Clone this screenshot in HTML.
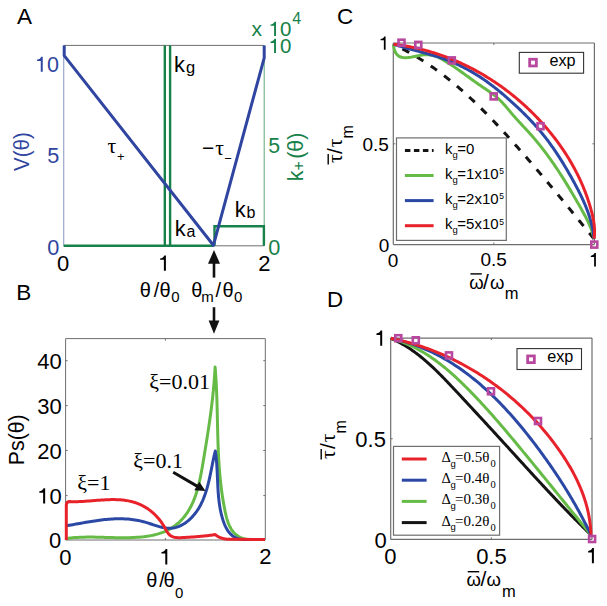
<!DOCTYPE html>
<html><head><meta charset="utf-8"><style>
html,body{margin:0;padding:0;background:#fff;width:607px;height:606px;overflow:hidden}
svg{display:block}
svg text{font-family:"Liberation Sans", sans-serif}
</style></head><body>
<svg xmlns="http://www.w3.org/2000/svg" width="607" height="606" viewBox="0 0 607 606">
<rect x="0" y="0" width="607" height="606" fill="#fff"/>
<line x1="63.70" y1="45.40" x2="264.20" y2="45.40" stroke="#6e6e6e" stroke-width="1.00"/>
<line x1="63.70" y1="45.40" x2="63.70" y2="245.80" stroke="#9aa6cc" stroke-width="1.20"/>
<line x1="264.20" y1="45.40" x2="264.20" y2="245.80" stroke="#5da57a" stroke-width="1.00"/>
<line x1="63.70" y1="245.80" x2="264.20" y2="245.80" stroke="#6e6e6e" stroke-width="1.00"/>
<path d="M63.70,245.80 L213.00,245.80" stroke="#17814a" stroke-width="2.60" fill="none"/>
<path d="M164.80,245.80 L164.80,45.40" stroke="#17814a" stroke-width="2.40" fill="none"/>
<path d="M170.10,245.80 L170.10,45.40" stroke="#17814a" stroke-width="2.40" fill="none"/>
<path d="M214.50,245.80 L214.50,226.20 L263.90,226.20 L263.90,245.80" stroke="#17814a" stroke-width="2.40" fill="none" stroke-linejoin="miter"/>
<path d="M64.20,45.40 L64.20,55.60 L213.40,245.30 L264.20,57.80 L264.20,45.40" stroke="#2f45a0" stroke-width="3.00" fill="none" stroke-linejoin="round"/>
<path d="M42.74,71.80 L42.74,56.75 L41.19,56.75 C40.70,58.25 39.30,59.44 37.04,59.72 L37.04,61.11 L40.76,61.11 L40.76,71.80 Z" fill="#2f45a0"/>
<text x="46.95" y="71.80" font-size="21.50" fill="#2f45a0">0</text>
<text x="47.13" y="162.90" font-size="21.70" fill="#2f45a0">5</text>
<text x="47.15" y="254.60" font-size="21.70" fill="#2f45a0">0</text>
<text x="57.04" y="270.80" font-size="22.00" fill="#000">0</text>
<path d="M165.90,270.70 L165.90,255.40 L164.33,255.40 C163.82,256.93 162.40,258.13 160.11,258.42 L160.11,259.84 L163.89,259.84 L163.89,270.70 Z" fill="#000"/>
<text x="258.19" y="271.00" font-size="22.00" fill="#000">2</text>
<path d="M275.98,53.10 L275.98,38.75 L274.50,38.75 C274.03,40.19 272.70,41.31 270.55,41.58 L270.55,42.91 L274.09,42.91 L274.09,53.10 Z" fill="#17814a"/>
<text x="280.00" y="53.10" font-size="20.50" fill="#17814a">0</text>
<text x="268.35" y="153.40" font-size="21.30" fill="#17814a">5</text>
<text x="268.35" y="254.60" font-size="21.70" fill="#17814a">0</text>
<text x="251.56" y="36.40" font-size="21.00" fill="#17814a">x</text>
<path d="M275.98,36.00 L275.98,21.65 L274.50,21.65 C274.03,23.09 272.70,24.21 270.55,24.48 L270.55,25.81 L274.09,25.81 L274.09,36.00 Z" fill="#17814a"/>
<text x="280.00" y="36.00" font-size="20.50" fill="#17814a">0</text>
<text x="292.23" y="24.40" font-size="16.00" fill="#17814a">4</text>
<text x="16.96" y="23.60" font-size="22.50" fill="#000">A</text>
<text x="16.25" y="299.60" font-size="22.50" fill="#000">B</text>
<text x="336.96" y="23.60" font-size="22.50" fill="#000">C</text>
<text x="327.06" y="307.20" font-size="22.40" fill="#000">D</text>
<text x="173.93" y="72.00" font-size="21.80" fill="#000">k</text>
<text x="185.91" y="73.00" font-size="16.50" fill="#000">g</text>
<text x="174.73" y="235.80" font-size="21.80" fill="#000">k</text>
<text x="186.62" y="237.00" font-size="16.00" fill="#000">a</text>
<text x="234.73" y="216.70" font-size="21.80" fill="#000">k</text>
<text x="246.47" y="217.60" font-size="16.00" fill="#000">b</text>
<text x="107.53" y="153.00" font-size="21.50" fill="#000" style='font-family:"Liberation Serif", serif'>τ</text>
<text x="116.97" y="161.00" font-size="13.00" fill="#000">+</text>
<text x="201.96" y="155.30" font-size="21.00" fill="#000">−</text>
<text x="215.23" y="155.00" font-size="21.50" fill="#000" style='font-family:"Liberation Serif", serif'>τ</text>
<text x="224.36" y="162.50" font-size="13.00" fill="#000">−</text>
<text x="139.86" y="297.30" font-size="20.00" fill="#000">θ</text>
<text x="153.70" y="297.30" font-size="20.00" fill="#000">/</text>
<text x="159.56" y="297.30" font-size="20.00" fill="#000">θ</text>
<text x="171.21" y="302.30" font-size="15.00" fill="#000">0</text>
<text x="191.26" y="297.30" font-size="20.00" fill="#000">θ</text>
<text x="201.30" y="302.30" font-size="15.00" fill="#000">m</text>
<text x="215.50" y="297.30" font-size="20.00" fill="#000">/</text>
<text x="222.46" y="297.30" font-size="20.00" fill="#000">θ</text>
<text x="233.91" y="302.30" font-size="15.00" fill="#000">0</text>
<line x1="214.00" y1="262.00" x2="214.00" y2="277.60" stroke="#111" stroke-width="2.60"/>
<path d="M208.0,263.7 L214.0,249.9 L220.0,263.7 Z" stroke="none" stroke-width="0.00" fill="#111"/>
<line x1="214.00" y1="307.20" x2="214.00" y2="322.00" stroke="#111" stroke-width="2.60"/>
<path d="M208.6,320.5 L214.0,333.8 L219.4,320.5 Z" stroke="none" stroke-width="0.00" fill="#111"/>
<g transform="translate(29.0,170.9) rotate(-90) scale(0.93,1)"><text x="0" y="0" font-size="22" fill="#2f45a0">V(θ)</text></g>
<g transform="translate(302.6,180.7) rotate(-90)" fill="#17814a"><text x="-0.45" y="0" font-size="21.6">k</text><text x="10.32" y="1.2" font-size="16">+</text><text x="0" y="0" font-size="22" transform="translate(21.87,0) scale(0.975,1)">(θ)</text></g>
<line x1="65.60" y1="338.60" x2="265.30" y2="338.60" stroke="#6e6e6e" stroke-width="1.00"/>
<line x1="65.60" y1="338.60" x2="65.60" y2="540.00" stroke="#6e6e6e" stroke-width="1.00"/>
<line x1="265.30" y1="338.60" x2="265.30" y2="540.00" stroke="#6e6e6e" stroke-width="1.00"/>
<line x1="65.60" y1="540.00" x2="265.30" y2="540.00" stroke="#6e6e6e" stroke-width="1.00"/>
<line x1="65.60" y1="360.70" x2="67.60" y2="360.70" stroke="#6e6e6e" stroke-width="1.00"/>
<line x1="263.30" y1="360.70" x2="265.30" y2="360.70" stroke="#6e6e6e" stroke-width="1.00"/>
<line x1="65.60" y1="405.60" x2="67.60" y2="405.60" stroke="#6e6e6e" stroke-width="1.00"/>
<line x1="263.30" y1="405.60" x2="265.30" y2="405.60" stroke="#6e6e6e" stroke-width="1.00"/>
<line x1="65.60" y1="450.50" x2="67.60" y2="450.50" stroke="#6e6e6e" stroke-width="1.00"/>
<line x1="263.30" y1="450.50" x2="265.30" y2="450.50" stroke="#6e6e6e" stroke-width="1.00"/>
<line x1="65.60" y1="495.60" x2="67.60" y2="495.60" stroke="#6e6e6e" stroke-width="1.00"/>
<line x1="263.30" y1="495.60" x2="265.30" y2="495.60" stroke="#6e6e6e" stroke-width="1.00"/>
<line x1="165.40" y1="540.00" x2="165.40" y2="538.00" stroke="#6e6e6e" stroke-width="1.00"/>
<line x1="165.40" y1="338.60" x2="165.40" y2="340.60" stroke="#6e6e6e" stroke-width="1.00"/>
<path d="M66.00,538.70 L68.26,538.36 L70.53,538.07 L72.82,537.82 L75.11,537.61 L77.41,537.45 L79.73,537.31 L82.05,537.22 L84.37,537.15 L86.71,537.10 L89.05,537.08 L91.40,537.09 L93.75,537.11 L96.11,537.15 L98.48,537.20 L100.85,537.25 L103.22,537.32 L105.59,537.39 L107.97,537.46 L110.35,537.53 L112.73,537.60 L115.11,537.65 L117.49,537.70 L119.87,537.73 L122.25,537.75 L124.63,537.75 L127.00,537.73 L129.38,537.68 L131.75,537.60 L134.11,537.50 L136.48,537.36 L138.83,537.18 L141.19,536.96 L143.53,536.71 L145.87,536.40 L148.21,536.05 L150.53,535.65 L152.84,535.19 L155.14,534.67 L157.41,534.09 L159.65,533.43 L161.85,532.69 L164.02,531.86 L166.14,530.95 L168.21,529.94 L170.22,528.83 L172.18,527.64 L174.08,526.35 L175.91,524.98 L177.68,523.53 L179.38,522.01 L181.01,520.41 L182.56,518.75 L184.04,517.03 L185.44,515.24 L186.77,513.40 L188.02,511.51 L189.20,509.57 L190.32,507.58 L191.37,505.54 L192.36,503.47 L193.30,501.35 L194.18,499.19 L195.00,497.00 L195.78,494.78 L196.51,492.53 L197.20,490.26 L197.85,487.96 L198.46,485.64 L199.04,483.30 L199.58,480.95 L200.10,478.59 L200.59,476.21 L201.06,473.83 L201.51,471.44 L201.94,469.05 L202.36,466.67 L202.76,464.28 L203.16,461.91 L203.56,459.54 L203.95,457.18 L204.33,454.84 L204.72,452.50 L205.10,450.18 L205.48,447.86 L205.86,445.55 L206.23,443.25 L206.60,440.96 L206.96,438.67 L207.32,436.39 L207.68,434.11 L208.03,431.84 L208.37,429.57 L208.71,427.30 L209.05,425.03 L209.38,422.77 L209.70,420.50 L210.02,418.24 L210.34,415.98 L210.64,413.71 L210.94,411.44 L211.23,409.17 L211.52,406.90 L211.80,404.62 L212.07,402.33 L212.33,400.04 L212.59,397.75 L212.84,395.44 L213.07,393.13 L213.31,390.81 L213.53,388.49 L213.74,386.15 L213.94,383.80 L214.14,381.44 L214.32,379.07 L214.50,376.68 L214.67,374.28 L214.82,371.87 L214.97,369.44 L215.10,367.00 L215.29,369.34 L215.47,371.67 L215.64,374.01 L215.80,376.34 L215.95,378.68 L216.09,381.01 L216.22,383.35 L216.33,385.68 L216.44,388.01 L216.55,390.35 L216.64,392.68 L216.73,395.02 L216.81,397.35 L216.89,399.68 L216.96,402.02 L217.03,404.35 L217.09,406.68 L217.15,409.01 L217.21,411.35 L217.26,413.68 L217.32,416.01 L217.37,418.35 L217.42,420.68 L217.47,423.01 L217.53,425.34 L217.58,427.68 L217.64,430.01 L217.69,432.34 L217.76,434.68 L217.82,437.01 L217.89,439.34 L217.96,441.67 L218.04,444.01 L218.13,446.34 L218.22,448.67 L218.32,451.00 L218.42,453.34 L218.53,455.67 L218.66,458.00 L218.79,460.34 L218.93,462.67 L219.08,465.00 L219.25,467.34 L219.42,469.67 L219.61,472.01 L219.81,474.34 L220.02,476.67 L220.24,479.01 L220.49,481.34 L220.74,483.68 L221.01,486.01 L221.30,488.35 L221.60,490.68 L221.93,493.02 L222.26,495.36 L222.62,497.69 L223.00,500.03 L223.40,502.36 L223.81,504.70 L224.25,507.04 L224.71,509.38 L225.19,511.71 L225.70,514.04 L226.25,516.35 L226.86,518.62 L227.54,520.85 L228.29,523.01 L229.14,525.10 L230.09,527.10 L231.15,529.00 L232.35,530.79 L233.68,532.45 L235.17,533.97 L236.82,535.34 L238.65,536.54 L240.68,537.56 L242.90,538.39 L245.34,539.01 L248.00,539.41 L265,539.6" stroke="#66bb47" stroke-width="3.00" fill="none" stroke-linejoin="round"/>
<path d="M66.00,525.80 L67.68,525.53 L69.36,525.24 L71.03,524.96 L72.71,524.66 L74.39,524.37 L76.07,524.07 L77.75,523.77 L79.43,523.47 L81.11,523.17 L82.79,522.88 L84.48,522.58 L86.16,522.29 L87.84,522.00 L89.52,521.72 L91.21,521.45 L92.89,521.18 L94.57,520.92 L96.26,520.68 L97.94,520.44 L99.63,520.21 L101.31,520.00 L102.99,519.80 L104.68,519.61 L106.36,519.44 L108.05,519.29 L109.73,519.16 L111.42,519.04 L113.10,518.94 L114.79,518.87 L116.47,518.81 L118.15,518.78 L119.84,518.77 L121.52,518.79 L123.21,518.83 L124.89,518.90 L126.57,518.99 L128.26,519.12 L129.94,519.27 L131.62,519.46 L133.30,519.68 L134.99,519.93 L136.67,520.21 L138.35,520.53 L140.03,520.88 L141.71,521.27 L143.39,521.70 L145.07,522.17 L146.75,522.67 L148.43,523.19 L150.10,523.74 L151.78,524.29 L153.45,524.84 L155.11,525.38 L156.77,525.90 L158.43,526.39 L160.08,526.84 L161.72,527.25 L163.35,527.61 L164.98,527.89 L166.60,528.11 L168.21,528.24 L169.81,528.28 L171.40,528.22 L172.98,528.06 L174.54,527.78 L176.09,527.39 L177.63,526.91 L179.14,526.33 L180.63,525.66 L182.10,524.90 L183.53,524.07 L184.94,523.16 L186.32,522.18 L187.66,521.13 L188.97,520.03 L190.24,518.87 L191.46,517.66 L192.65,516.40 L193.78,515.11 L194.87,513.78 L195.91,512.43 L196.90,511.04 L197.85,509.62 L198.75,508.18 L199.61,506.71 L200.43,505.22 L201.21,503.70 L201.95,502.16 L202.66,500.60 L203.33,499.03 L203.97,497.43 L204.58,495.82 L205.16,494.19 L205.71,492.55 L206.24,490.90 L206.74,489.23 L207.22,487.56 L207.68,485.88 L208.12,484.19 L208.54,482.50 L208.94,480.80 L209.33,479.09 L209.71,477.39 L210.08,475.69 L210.43,473.98 L210.78,472.28 L211.12,470.59 L211.46,468.90 L211.79,467.21 L212.12,465.53 L212.45,463.86 L212.79,462.21 L213.12,460.56 L213.46,458.93 L213.81,457.31 L214.17,455.70 L214.53,454.12 L214.91,452.55 L215.30,451.00 L215.48,452.20 L215.66,453.40 L215.82,454.60 L215.97,455.82 L216.11,457.04 L216.24,458.28 L216.37,459.51 L216.48,460.76 L216.58,462.01 L216.68,463.27 L216.77,464.53 L216.85,465.80 L216.93,467.07 L217.00,468.35 L217.07,469.63 L217.14,470.92 L217.20,472.21 L217.26,473.51 L217.32,474.80 L217.37,476.10 L217.43,477.41 L217.48,478.71 L217.54,480.02 L217.60,481.33 L217.65,482.64 L217.72,483.95 L217.78,485.27 L217.85,486.58 L217.92,487.89 L218.00,489.21 L218.08,490.52 L218.17,491.83 L218.26,493.14 L218.36,494.45 L218.47,495.76 L218.59,497.07 L218.72,498.37 L218.86,499.67 L219.01,500.97 L219.17,502.26 L219.34,503.55 L219.52,504.84 L219.72,506.13 L219.93,507.40 L220.15,508.68 L220.39,509.95 L220.65,511.21 L220.92,512.47 L221.21,513.72 L221.51,514.97 L221.83,516.21 L222.17,517.44 L222.53,518.66 L222.91,519.88 L223.31,521.09 L223.74,522.29 L224.18,523.48 L224.65,524.64 L225.15,525.79 L225.68,526.92 L226.24,528.02 L226.84,529.08 L227.47,530.12 L228.14,531.11 L228.85,532.07 L229.59,532.98 L230.39,533.85 L231.23,534.67 L232.11,535.43 L233.05,536.14 L234.03,536.79 L235.07,537.37 L236.17,537.89 L237.32,538.33 L238.53,538.71 L239.80,539.01 L241.13,539.22 L242.53,539.36 L244.00,539.41 L265,539.6" stroke="#2a48a4" stroke-width="3.00" fill="none" stroke-linejoin="round"/>
<path d="M66.3,540 L66.3,505.0 Q66.3,501.7 70,501.6 L70.00,501.60 L71.28,501.65 L72.57,501.67 L73.86,501.69 L75.17,501.68 L76.49,501.66 L77.81,501.63 L79.14,501.59 L80.48,501.53 L81.82,501.46 L83.17,501.39 L84.53,501.30 L85.89,501.21 L87.26,501.12 L88.63,501.01 L90.01,500.91 L91.39,500.80 L92.77,500.69 L94.16,500.58 L95.55,500.47 L96.94,500.36 L98.33,500.25 L99.72,500.15 L101.11,500.05 L102.51,499.96 L103.90,499.88 L105.29,499.81 L106.68,499.74 L108.07,499.68 L109.46,499.64 L110.84,499.61 L112.22,499.59 L113.60,499.59 L114.97,499.60 L116.34,499.64 L117.71,499.68 L119.07,499.75 L120.42,499.84 L121.77,499.95 L123.11,500.08 L124.44,500.24 L125.77,500.42 L127.09,500.63 L128.40,500.86 L129.70,501.13 L130.99,501.42 L132.27,501.74 L133.54,502.09 L134.80,502.48 L136.05,502.90 L137.29,503.35 L138.51,503.83 L139.73,504.35 L140.93,504.90 L142.11,505.48 L143.28,506.09 L144.44,506.74 L145.58,507.41 L146.70,508.11 L147.81,508.84 L148.89,509.61 L149.96,510.40 L151.02,511.21 L152.05,512.06 L153.06,512.93 L154.05,513.83 L155.02,514.76 L155.97,515.71 L156.90,516.69 L157.80,517.69 L158.68,518.72 L159.53,519.77 L160.36,520.85 L161.17,521.95 L161.95,523.07 L162.70,524.22 L163.43,525.39 L164.13,526.58 L164.80,527.79 L165.46,529.00 L166.12,530.19 L166.79,531.35 L167.50,532.45 L168.25,533.48 L169.06,534.41 L169.94,535.22 L170.92,535.90 L171.98,536.45 L173.13,536.88 L174.34,537.20 L175.62,537.42 L176.94,537.57 L178.31,537.64 L179.70,537.66 L181.12,537.63 L182.55,537.58 L183.98,537.51 L185.40,537.43 L186.82,537.35 L188.23,537.27 L189.63,537.18 L191.02,537.09 L192.41,537.00 L193.79,536.90 L195.16,536.80 L196.53,536.69 L197.89,536.58 L199.25,536.47 L200.60,536.34 L201.95,536.22 L203.29,536.08 L204.62,535.95 L205.96,535.80 L207.29,535.65 L208.61,535.49 L209.93,535.33 L211.25,535.16 L212.57,534.98 L213.89,534.79 L215.20,534.60 L215.36,534.73 L215.51,534.86 L215.67,534.98 L215.83,535.11 L215.99,535.23 L216.16,535.35 L216.32,535.46 L216.48,535.58 L216.65,535.69 L216.82,535.80 L216.99,535.91 L217.16,536.02 L217.33,536.13 L217.50,536.23 L217.67,536.33 L217.84,536.43 L218.02,536.53 L218.19,536.63 L218.37,536.72 L218.55,536.82 L218.72,536.91 L218.90,537.00 L219.08,537.09 L219.26,537.17 L219.45,537.25 L219.63,537.34 L219.81,537.42 L219.99,537.50 L220.18,537.57 L220.37,537.65 L220.55,537.72 L220.74,537.79 L220.93,537.86 L221.11,537.93 L221.30,537.99 L221.49,538.06 L221.68,538.12 L221.87,538.18 L222.07,538.24 L222.26,538.30 L222.45,538.36 L222.64,538.41 L222.84,538.46 L223.03,538.51 L223.23,538.56 L223.42,538.61 L223.62,538.66 L223.81,538.70 L224.01,538.74 L224.21,538.78 L224.40,538.82 L224.60,538.86 L224.80,538.90 L225.00,538.93 L225.20,538.96 L225.39,539.00 L225.59,539.03 L225.79,539.05 L225.99,539.08 L226.19,539.11 L226.39,539.13 L226.59,539.15 L226.79,539.17 L226.99,539.19 L227.19,539.21 L227.39,539.22 L227.59,539.24 L227.79,539.25 L227.99,539.26 L228.20,539.27 L228.40,539.28 L228.60,539.29 L228.80,539.30 L229.00,539.30 L229.20,539.30 L229.40,539.30 L229.60,539.30 L229.80,539.30 L230.00,539.30 L265,539.5" stroke="#e8222b" stroke-width="3.00" fill="none" stroke-linejoin="round"/>
<text x="37.24" y="368.80" font-size="22.00" fill="#000">40</text>
<text x="37.24" y="413.90" font-size="22.00" fill="#000">30</text>
<text x="37.24" y="458.90" font-size="22.00" fill="#000">20</text>
<path d="M45.16,503.60 L45.16,488.20 L43.57,488.20 C43.07,489.74 41.64,490.95 39.33,491.24 L39.33,492.67 L43.13,492.67 L43.13,503.60 Z" fill="#000"/>
<text x="49.47" y="503.60" font-size="22.00" fill="#000">0</text>
<text x="61.30" y="548.30" font-size="22.00" fill="#000" text-anchor="end">0</text>
<text x="59.24" y="564.60" font-size="22.00" fill="#000">0</text>
<path d="M167.30,564.40 L167.30,549.00 L165.72,549.00 C165.21,550.54 163.78,551.75 161.47,552.04 L161.47,553.47 L165.28,553.47 L165.28,564.40 Z" fill="#000"/>
<text x="259.19" y="564.40" font-size="22.00" fill="#000">2</text>
<text x="146.26" y="586.80" font-size="20.00" fill="#000">θ</text>
<text x="159.30" y="586.80" font-size="20.00" fill="#000">/</text>
<text x="163.56" y="586.80" font-size="20.00" fill="#000">θ</text>
<text x="175.11" y="598.00" font-size="15.00" fill="#000">0</text>
<g transform="translate(23.8,465.25) rotate(-90) scale(0.97,1)"><text x="0" y="0" font-size="22" fill="#000">Ps(θ)</text></g>
<text x="149.20" y="388.50" font-size="22.00" fill="#000" text-anchor="start" style='font-family:"Liberation Serif", serif'>ξ=0.01</text>
<text x="133.30" y="467.90" font-size="22.00" fill="#000" text-anchor="start" style='font-family:"Liberation Serif", serif'>ξ=0.1</text>
<text x="77.20" y="489.80" font-size="22.00" fill="#000" text-anchor="start" style='font-family:"Liberation Serif", serif'>ξ=1</text>
<line x1="173.20" y1="472.30" x2="197.50" y2="486.40" stroke="#111" stroke-width="3.00"/>
<path d="M205.5,491.0 L194.3,490.3 L199.3,481.7 Z" stroke="none" stroke-width="0.00" fill="#111"/>
<line x1="393.30" y1="43.00" x2="594.40" y2="43.00" stroke="#6e6e6e" stroke-width="1.20"/>
<line x1="393.30" y1="43.00" x2="393.30" y2="244.60" stroke="#6e6e6e" stroke-width="1.20"/>
<line x1="594.40" y1="43.00" x2="594.40" y2="244.60" stroke="#6e6e6e" stroke-width="1.20"/>
<line x1="393.30" y1="244.60" x2="594.40" y2="244.60" stroke="#6e6e6e" stroke-width="1.20"/>
<line x1="493.85" y1="244.60" x2="493.85" y2="242.60" stroke="#6e6e6e" stroke-width="1.00"/>
<line x1="493.85" y1="43.00" x2="493.85" y2="45.00" stroke="#6e6e6e" stroke-width="1.00"/>
<line x1="393.30" y1="143.80" x2="395.30" y2="143.80" stroke="#6e6e6e" stroke-width="1.00"/>
<line x1="592.40" y1="143.80" x2="594.40" y2="143.80" stroke="#6e6e6e" stroke-width="1.00"/>
<path d="M393.51,44.49 L394.81,45.09 L396.10,45.71 L397.39,46.33 L398.67,46.96 L399.95,47.60 L401.22,48.25 L402.49,48.90 L403.75,49.56 L405.01,50.22 L406.26,50.89 L407.51,51.57 L408.76,52.26 L410.00,52.95 L411.23,53.65 L412.46,54.35 L413.68,55.06 L414.90,55.78 L416.12,56.50 L417.33,57.23 L418.54,57.97 L419.74,58.71 L420.94,59.46 L422.13,60.21 L423.32,60.97 L424.51,61.74 L425.69,62.51 L426.86,63.29 L428.03,64.08 L429.20,64.86 L430.37,65.66 L431.53,66.46 L432.68,67.27 L433.83,68.08 L434.98,68.89 L436.12,69.72 L437.26,70.54 L438.40,71.38 L439.53,72.22 L440.66,73.06 L441.78,73.91 L442.90,74.76 L444.02,75.62 L445.13,76.48 L446.24,77.35 L447.35,78.22 L448.45,79.10 L449.55,79.98 L450.65,80.87 L451.74,81.76 L452.83,82.66 L453.91,83.56 L455.00,84.46 L456.07,85.37 L457.15,86.28 L458.22,87.20 L459.29,88.12 L460.36,89.05 L461.42,89.98 L462.48,90.91 L463.54,91.85 L464.59,92.79 L465.64,93.74 L466.69,94.68 L467.73,95.64 L468.77,96.59 L469.81,97.55 L470.85,98.52 L471.88,99.48 L472.91,100.46 L473.94,101.43 L474.97,102.41 L475.99,103.39 L477.01,104.37 L478.03,105.36 L479.04,106.35 L480.06,107.34 L481.07,108.34 L482.07,109.34 L483.08,110.34 L484.08,111.34 L485.08,112.35 L486.08,113.36 L487.08,114.37 L488.07,115.39 L489.07,116.41 L490.06,117.43 L491.04,118.45 L492.03,119.48 L493.02,120.50 L494.00,121.53 L494.98,122.56 L495.96,123.60 L496.93,124.63 L497.91,125.67 L498.88,126.71 L499.85,127.76 L500.82,128.80 L501.79,129.84 L502.75,130.89 L503.72,131.94 L504.68,132.99 L505.64,134.04 L506.60,135.10 L507.56,136.15 L508.52,137.21 L509.48,138.27 L510.43,139.33 L511.38,140.39 L512.33,141.45 L513.29,142.51 L514.23,143.58 L515.18,144.64 L516.13,145.71 L517.08,146.78 L518.02,147.84 L518.97,148.91 L519.91,149.98 L520.85,151.05 L521.79,152.12 L522.73,153.20 L523.67,154.27 L524.61,155.34 L525.54,156.42 L526.48,157.49 L527.41,158.57 L528.34,159.65 L529.28,160.73 L530.21,161.81 L531.14,162.88 L532.07,163.97 L533.00,165.05 L533.92,166.13 L534.85,167.21 L535.78,168.29 L536.70,169.38 L537.62,170.46 L538.55,171.54 L539.47,172.63 L540.39,173.72 L541.31,174.80 L542.23,175.89 L543.15,176.98 L544.06,178.06 L544.98,179.15 L545.89,180.24 L546.81,181.33 L547.72,182.42 L548.64,183.51 L549.55,184.60 L550.46,185.69 L551.37,186.78 L552.28,187.87 L553.19,188.97 L554.10,190.06 L555.01,191.15 L555.91,192.24 L556.82,193.34 L557.72,194.43 L558.63,195.52 L559.53,196.62 L560.44,197.71 L561.34,198.81 L562.24,199.90 L563.14,200.99 L564.04,202.09 L564.94,203.18 L565.84,204.28 L566.74,205.37 L567.64,206.47 L568.53,207.56 L569.43,208.66 L570.33,209.75 L571.22,210.85 L572.12,211.94 L573.01,213.04 L573.91,214.14 L574.80,215.23 L575.69,216.33 L576.58,217.42 L577.47,218.52 L578.36,219.61 L579.26,220.70 L580.15,221.80 L581.03,222.89 L581.92,223.99 L582.81,225.08 L583.70,226.17 L584.59,227.27 L585.47,228.36 L586.36,229.45 L587.25,230.55 L588.13,231.64 L589.02,232.73 L589.90,233.82 L590.79,234.91 L591.67,236.01 L592.55,237.10 L593.44,238.19 L594.32,239.28" stroke="#141414" stroke-width="3.00" fill="none" stroke-dasharray="7.6 8.9" stroke-dashoffset="6.49"/>
<path d="M393.50,44.30 L393.78,46.90 L394.24,49.16 L394.86,51.11 L395.64,52.76 L396.56,54.13 L397.61,55.25 L398.79,56.13 L400.07,56.79 L401.46,57.26 L402.94,57.56 L404.49,57.70 L406.12,57.71 L407.80,57.60 L409.53,57.40 L411.30,57.12 L413.09,56.80 L414.90,56.44 L416.71,56.07 L418.52,55.71 L420.31,55.37 L422.08,55.09 L423.80,54.87 L425.48,54.75 L427.11,54.72 L428.68,54.80 L430.20,54.96 L431.68,55.21 L433.12,55.53 L434.52,55.93 L435.89,56.39 L437.23,56.91 L438.54,57.48 L439.83,58.09 L441.10,58.74 L442.35,59.43 L443.60,60.14 L444.83,60.87 L446.06,61.62 L447.28,62.37 L448.50,63.14 L449.72,63.92 L450.93,64.71 L452.14,65.51 L453.34,66.32 L454.54,67.13 L455.74,67.96 L456.94,68.79 L458.14,69.63 L459.33,70.47 L460.52,71.32 L461.71,72.17 L462.90,73.02 L464.09,73.88 L465.28,74.74 L466.47,75.61 L467.66,76.47 L468.85,77.33 L470.04,78.19 L471.23,79.06 L472.42,79.92 L473.61,80.77 L474.81,81.63 L476.01,82.48 L477.21,83.32 L478.41,84.16 L479.62,85.00 L480.83,85.82 L482.05,86.65 L483.26,87.47 L484.47,88.29 L485.68,89.11 L486.89,89.93 L488.09,90.76 L489.28,91.59 L490.47,92.43 L491.64,93.29 L492.81,94.15 L493.96,95.03 L495.10,95.93 L496.22,96.85 L497.32,97.79 L498.41,98.75 L499.48,99.73 L500.52,100.74 L501.54,101.78 L502.55,102.83 L503.54,103.91 L504.51,105.00 L505.48,106.11 L506.43,107.23 L507.38,108.35 L508.33,109.48 L509.27,110.61 L510.22,111.75 L511.16,112.87 L512.12,114.00 L513.08,115.11 L514.04,116.21 L515.01,117.31 L515.99,118.40 L516.97,119.49 L517.95,120.57 L518.94,121.65 L519.93,122.72 L520.92,123.79 L521.91,124.86 L522.90,125.93 L523.89,126.99 L524.88,128.06 L525.87,129.13 L526.86,130.20 L527.84,131.27 L528.82,132.34 L529.79,133.42 L530.76,134.50 L531.73,135.59 L532.69,136.68 L533.64,137.78 L534.59,138.89 L535.53,140.00 L536.46,141.11 L537.39,142.24 L538.31,143.36 L539.23,144.49 L540.14,145.63 L541.05,146.77 L541.95,147.92 L542.84,149.07 L543.73,150.23 L544.62,151.39 L545.50,152.55 L546.37,153.72 L547.24,154.90 L548.10,156.08 L548.96,157.26 L549.82,158.44 L550.66,159.63 L551.51,160.83 L552.35,162.03 L553.18,163.23 L554.01,164.43 L554.84,165.64 L555.66,166.85 L556.48,168.07 L557.29,169.29 L558.10,170.51 L558.91,171.73 L559.71,172.96 L560.50,174.19 L561.30,175.42 L562.09,176.66 L562.87,177.90 L563.65,179.14 L564.43,180.38 L565.21,181.62 L565.98,182.87 L566.74,184.12 L567.51,185.37 L568.27,186.62 L569.03,187.88 L569.78,189.13 L570.53,190.39 L571.28,191.65 L572.03,192.91 L572.77,194.17 L573.51,195.43 L574.25,196.70 L574.98,197.96 L575.71,199.23 L576.44,200.49 L577.17,201.76 L577.89,203.03 L578.62,204.30 L579.34,205.56 L580.05,206.83 L580.77,208.10 L581.48,209.37 L582.20,210.64 L582.90,211.91 L583.61,213.18 L584.31,214.45 L585.00,215.73 L585.68,217.01 L586.35,218.30 L587.01,219.59 L587.65,220.89 L588.28,222.19 L588.89,223.51 L589.48,224.83 L590.05,226.17 L590.60,227.51 L591.13,228.87 L591.63,230.24 L592.10,231.63 L592.54,233.03 L592.96,234.45 L593.34,235.88 L593.69,237.33 L594.00,238.80" stroke="#66bb47" stroke-width="3.00" fill="none"/>
<path d="M393.50,44.20 L394.90,44.66 L396.31,45.11 L397.72,45.55 L399.14,45.99 L400.55,46.41 L401.98,46.83 L403.40,47.25 L404.83,47.65 L406.26,48.05 L407.70,48.45 L409.13,48.84 L410.57,49.23 L412.01,49.62 L413.45,50.01 L414.89,50.39 L416.33,50.77 L417.78,51.16 L419.22,51.54 L420.66,51.93 L422.11,52.31 L423.55,52.70 L424.99,53.10 L426.43,53.49 L427.87,53.89 L429.30,54.30 L430.74,54.71 L432.17,55.13 L433.60,55.55 L435.03,55.99 L436.45,56.43 L437.87,56.88 L439.29,57.34 L440.70,57.81 L442.11,58.29 L443.52,58.78 L444.92,59.28 L446.31,59.80 L447.70,60.33 L449.08,60.87 L450.46,61.43 L451.84,61.99 L453.21,62.57 L454.57,63.16 L455.93,63.77 L457.28,64.38 L458.63,65.01 L459.97,65.65 L461.30,66.30 L462.63,66.96 L463.96,67.64 L465.27,68.32 L466.59,69.02 L467.89,69.72 L469.19,70.44 L470.49,71.17 L471.77,71.91 L473.06,72.66 L474.33,73.42 L475.60,74.19 L476.87,74.98 L478.12,75.77 L479.37,76.57 L480.62,77.38 L481.85,78.20 L483.08,79.04 L484.31,79.88 L485.53,80.73 L486.74,81.59 L487.94,82.46 L489.14,83.34 L490.34,84.22 L491.52,85.12 L492.71,86.02 L493.88,86.93 L495.05,87.84 L496.22,88.77 L497.38,89.70 L498.54,90.64 L499.69,91.58 L500.84,92.53 L501.98,93.49 L503.12,94.45 L504.25,95.41 L505.38,96.39 L506.51,97.36 L507.63,98.34 L508.75,99.33 L509.86,100.32 L510.97,101.31 L512.08,102.31 L513.19,103.31 L514.29,104.32 L515.38,105.33 L516.47,106.35 L517.56,107.36 L518.65,108.39 L519.72,109.41 L520.80,110.45 L521.87,111.48 L522.93,112.52 L523.99,113.57 L525.05,114.62 L526.09,115.68 L527.14,116.74 L528.17,117.80 L529.21,118.87 L530.23,119.95 L531.25,121.03 L532.27,122.12 L533.27,123.21 L534.27,124.31 L535.27,125.41 L536.25,126.52 L537.23,127.63 L538.21,128.75 L539.17,129.88 L540.13,131.01 L541.08,132.15 L542.03,133.29 L542.96,134.44 L543.89,135.59 L544.81,136.76 L545.72,137.92 L546.63,139.10 L547.53,140.28 L548.42,141.46 L549.30,142.65 L550.17,143.85 L551.04,145.05 L551.90,146.26 L552.76,147.47 L553.61,148.69 L554.45,149.91 L555.28,151.14 L556.11,152.37 L556.93,153.60 L557.75,154.85 L558.56,156.09 L559.37,157.34 L560.17,158.59 L560.96,159.85 L561.75,161.11 L562.53,162.38 L563.31,163.65 L564.08,164.92 L564.85,166.20 L565.61,167.48 L566.37,168.76 L567.13,170.05 L567.88,171.34 L568.62,172.63 L569.37,173.93 L570.10,175.23 L570.84,176.53 L571.57,177.83 L572.30,179.14 L573.02,180.45 L573.74,181.76 L574.46,183.07 L575.17,184.39 L575.87,185.70 L576.58,187.03 L577.27,188.35 L577.96,189.68 L578.64,191.01 L579.31,192.34 L579.98,193.67 L580.64,195.01 L581.28,196.36 L581.92,197.70 L582.55,199.05 L583.17,200.41 L583.78,201.77 L584.37,203.13 L584.95,204.50 L585.53,205.87 L586.08,207.24 L586.63,208.62 L587.16,210.00 L587.67,211.39 L588.17,212.78 L588.65,214.18 L589.12,215.59 L589.57,216.99 L590.01,218.41 L590.42,219.83 L590.82,221.25 L591.20,222.68 L591.56,224.11 L591.90,225.56 L592.22,227.00 L592.52,228.46 L592.80,229.91 L593.06,231.38 L593.29,232.85 L593.51,234.33 L593.70,235.81 L593.86,237.30 L594.00,238.80" stroke="#2a48a4" stroke-width="3.00" fill="none"/>
<path d="M393.50,44.20 L395.02,44.39 L396.55,44.58 L398.07,44.79 L399.58,45.00 L401.10,45.23 L402.61,45.47 L404.12,45.71 L405.62,45.97 L407.13,46.24 L408.63,46.52 L410.13,46.81 L411.62,47.10 L413.11,47.41 L414.60,47.73 L416.09,48.06 L417.57,48.40 L419.05,48.74 L420.53,49.10 L422.00,49.47 L423.47,49.85 L424.94,50.23 L426.41,50.63 L427.87,51.04 L429.33,51.45 L430.78,51.88 L432.23,52.32 L433.68,52.76 L435.12,53.22 L436.56,53.68 L438.00,54.15 L439.44,54.64 L440.87,55.13 L442.29,55.63 L443.72,56.14 L445.14,56.66 L446.55,57.19 L447.96,57.73 L449.37,58.28 L450.78,58.83 L452.18,59.40 L453.57,59.97 L454.97,60.56 L456.36,61.15 L457.74,61.75 L459.12,62.36 L460.50,62.98 L461.87,63.61 L463.24,64.25 L464.60,64.89 L465.96,65.55 L467.32,66.21 L468.67,66.88 L470.02,67.56 L471.36,68.25 L472.70,68.95 L474.04,69.65 L475.37,70.37 L476.69,71.09 L478.01,71.82 L479.33,72.56 L480.64,73.31 L481.95,74.06 L483.25,74.83 L484.55,75.60 L485.84,76.38 L487.13,77.16 L488.42,77.96 L489.70,78.76 L490.97,79.58 L492.24,80.40 L493.51,81.22 L494.76,82.06 L496.02,82.90 L497.27,83.75 L498.51,84.61 L499.75,85.48 L500.99,86.35 L502.22,87.24 L503.44,88.13 L504.66,89.02 L505.87,89.93 L507.08,90.84 L508.29,91.76 L509.48,92.68 L510.68,93.62 L511.86,94.56 L513.04,95.51 L514.22,96.47 L515.39,97.43 L516.55,98.40 L517.71,99.38 L518.87,100.36 L520.02,101.35 L521.16,102.35 L522.29,103.36 L523.42,104.37 L524.55,105.39 L525.67,106.41 L526.78,107.45 L527.89,108.49 L528.99,109.53 L530.09,110.59 L531.18,111.65 L532.26,112.71 L533.34,113.79 L534.41,114.87 L535.47,115.95 L536.53,117.05 L537.58,118.15 L538.63,119.25 L539.67,120.36 L540.70,121.48 L541.73,122.61 L542.75,123.74 L543.76,124.88 L544.77,126.02 L545.76,127.17 L546.76,128.33 L547.74,129.49 L548.72,130.65 L549.69,131.83 L550.65,133.01 L551.61,134.19 L552.55,135.39 L553.49,136.58 L554.43,137.79 L555.35,138.99 L556.27,140.21 L557.18,141.43 L558.08,142.66 L558.97,143.89 L559.86,145.12 L560.73,146.37 L561.60,147.62 L562.46,148.87 L563.31,150.13 L564.16,151.39 L564.99,152.66 L565.82,153.94 L566.63,155.22 L567.44,156.50 L568.24,157.79 L569.03,159.09 L569.81,160.39 L570.58,161.70 L571.34,163.01 L572.10,164.32 L572.84,165.65 L573.58,166.97 L574.30,168.30 L575.02,169.64 L575.72,170.98 L576.42,172.32 L577.10,173.67 L577.78,175.03 L578.44,176.39 L579.10,177.75 L579.74,179.12 L580.38,180.49 L581.01,181.87 L581.62,183.25 L582.22,184.64 L582.82,186.03 L583.40,187.43 L583.97,188.83 L584.53,190.23 L585.08,191.64 L585.62,193.05 L586.15,194.47 L586.67,195.89 L587.17,197.31 L587.67,198.74 L588.15,200.17 L588.62,201.61 L589.08,203.05 L589.53,204.49 L589.97,205.94 L590.39,207.39 L590.81,208.85 L591.21,210.31 L591.60,211.77 L591.97,213.24 L592.33,214.71 L592.67,216.19 L592.99,217.66 L593.28,219.15 L593.55,220.63 L593.79,222.12 L594.00,223.62 L594.18,225.12 L594.33,226.62 L594.43,228.13 L594.51,229.64 L594.54,231.15 L594.52,232.67 L594.46,234.20 L594.36,235.73 L594.21,237.26 L594.00,238.80" stroke="#e8222b" stroke-width="3.00" fill="none"/>
<rect x="398.50" y="39.70" width="6.00" height="6.00" fill="none" stroke="#b8489f" stroke-width="2.60"/>
<rect x="415.30" y="41.90" width="6.00" height="6.00" fill="none" stroke="#b8489f" stroke-width="2.60"/>
<rect x="448.80" y="57.40" width="6.00" height="6.00" fill="none" stroke="#b8489f" stroke-width="2.60"/>
<rect x="490.70" y="93.40" width="6.00" height="6.00" fill="none" stroke="#b8489f" stroke-width="2.60"/>
<rect x="537.50" y="123.20" width="6.00" height="6.00" fill="none" stroke="#b8489f" stroke-width="2.60"/>
<rect x="591.30" y="241.60" width="6.00" height="6.00" fill="none" stroke="#b8489f" stroke-width="2.60"/>
<rect x="396.5" y="137.9" width="109.8" height="102.5" fill="#fff" stroke="#6e6e6e" stroke-width="1.2"/>
<path d="M404.9,150.40 L433.6,150.40" stroke="#141414" stroke-width="3.00" fill="none" stroke-dasharray="5.5 3.5"/>
<text x="444.89" y="153.80" font-size="15.00" fill="#000">k</text>
<text x="452.50" y="158.10" font-size="9.50" fill="#000">g</text>
<text x="457.30" y="153.80" font-size="15.00" fill="#000">=0</text>
<line x1="404.90" y1="175.50" x2="433.60" y2="175.50" stroke="#66bb47" stroke-width="3.00"/>
<text x="444.89" y="178.90" font-size="15.00" fill="#000">k</text>
<text x="452.50" y="183.20" font-size="9.50" fill="#000">g</text>
<text x="457.30" y="178.90" font-size="15.00" fill="#000">=1x10</text>
<text x="499.26" y="174.30" font-size="8.50" fill="#000">5</text>
<line x1="404.90" y1="200.60" x2="433.60" y2="200.60" stroke="#2a48a4" stroke-width="3.00"/>
<text x="444.89" y="204.00" font-size="15.00" fill="#000">k</text>
<text x="452.50" y="208.30" font-size="9.50" fill="#000">g</text>
<text x="457.30" y="204.00" font-size="15.00" fill="#000">=2x10</text>
<text x="499.26" y="199.40" font-size="8.50" fill="#000">5</text>
<line x1="404.90" y1="225.70" x2="433.60" y2="225.70" stroke="#e8222b" stroke-width="3.00"/>
<text x="444.89" y="229.10" font-size="15.00" fill="#000">k</text>
<text x="452.50" y="233.40" font-size="9.50" fill="#000">g</text>
<text x="457.30" y="229.10" font-size="15.00" fill="#000">=5x10</text>
<text x="499.26" y="224.50" font-size="8.50" fill="#000">5</text>
<rect x="519.3" y="52.4" width="64.3" height="20.8" fill="#fff" stroke="#333" stroke-width="1.1"/>
<rect x="529.65" y="59.25" width="6.70" height="6.70" fill="none" stroke="#b8489f" stroke-width="2.80"/>
<text x="549.51" y="66.10" font-size="16.20" fill="#000">exp</text>
<path d="M385.60,49.80 L385.60,36.50 L384.23,36.50 C383.80,37.83 382.56,38.88 380.56,39.12 L380.56,40.36 L383.85,40.36 L383.85,49.80 Z" fill="#000"/>
<text x="388.90" y="151.10" font-size="19.00" fill="#000" text-anchor="end">0.5</text>
<text x="389.30" y="252.00" font-size="19.00" fill="#000" text-anchor="end">0</text>
<text x="387.86" y="266.60" font-size="19.00" fill="#000">0</text>
<text x="480.46" y="266.40" font-size="19.00" fill="#000">0.5</text>
<path d="M595.90,266.50 L595.90,253.00 L594.51,253.00 C594.07,254.35 592.81,255.41 590.79,255.66 L590.79,256.92 L594.13,256.92 L594.13,266.50 Z" fill="#000"/>
<g transform="translate(341.80,165.00) rotate(-90)"><text x="2.03" y="0" font-size="21.5" style="font-family:'Liberation Serif',serif">τ</text><text x="10.90" y="0" font-size="21">/</text><text x="17.83" y="0" font-size="21.5" style="font-family:'Liberation Serif',serif">τ</text><text x="26.64" y="10.90" font-size="16">m</text><line x1="0.5" y1="-13.6" x2="10.9" y2="-13.6" stroke="#000" stroke-width="1.4"/></g>
<text x="469.25" y="288.60" font-size="18.50" fill="#000">ω</text>
<text x="483.10" y="288.60" font-size="21.00" fill="#000">/</text>
<text x="490.05" y="288.60" font-size="18.50" fill="#000">ω</text>
<text x="504.70" y="299.30" font-size="16.50" fill="#000">m</text>
<line x1="470.40" y1="273.90" x2="481.80" y2="273.90" stroke="#000" stroke-width="1.40"/>
<line x1="390.70" y1="338.10" x2="592.00" y2="338.10" stroke="#6e6e6e" stroke-width="1.20"/>
<line x1="390.70" y1="338.10" x2="390.70" y2="539.40" stroke="#6e6e6e" stroke-width="1.20"/>
<line x1="592.00" y1="338.10" x2="592.00" y2="539.40" stroke="#6e6e6e" stroke-width="1.20"/>
<line x1="390.70" y1="539.40" x2="592.00" y2="539.40" stroke="#6e6e6e" stroke-width="1.20"/>
<line x1="491.35" y1="539.40" x2="491.35" y2="537.40" stroke="#6e6e6e" stroke-width="1.00"/>
<line x1="491.35" y1="338.10" x2="491.35" y2="340.10" stroke="#6e6e6e" stroke-width="1.00"/>
<line x1="390.70" y1="438.75" x2="392.70" y2="438.75" stroke="#6e6e6e" stroke-width="1.00"/>
<line x1="590.00" y1="438.75" x2="592.00" y2="438.75" stroke="#6e6e6e" stroke-width="1.00"/>
<path d="M390.80,338.30 L392.58,339.09 L394.33,339.90 L396.06,340.74 L397.77,341.61 L399.46,342.50 L401.13,343.41 L402.78,344.35 L404.42,345.31 L406.03,346.29 L407.63,347.30 L409.21,348.33 L410.78,349.37 L412.33,350.44 L413.86,351.53 L415.38,352.63 L416.88,353.75 L418.37,354.90 L419.84,356.05 L421.31,357.23 L422.76,358.42 L424.19,359.62 L425.62,360.84 L427.03,362.07 L428.44,363.32 L429.83,364.58 L431.21,365.85 L432.59,367.13 L433.96,368.42 L435.31,369.72 L436.66,371.04 L438.01,372.36 L439.34,373.69 L440.67,375.03 L442.00,376.37 L443.32,377.72 L444.63,379.08 L445.94,380.44 L447.25,381.81 L448.55,383.18 L449.85,384.55 L451.15,385.93 L452.44,387.31 L453.74,388.69 L455.03,390.07 L456.33,391.45 L457.62,392.83 L458.91,394.22 L460.20,395.60 L461.49,396.98 L462.78,398.37 L464.08,399.75 L465.37,401.14 L466.65,402.53 L467.94,403.91 L469.23,405.30 L470.52,406.69 L471.81,408.08 L473.09,409.47 L474.38,410.86 L475.67,412.25 L476.95,413.64 L478.24,415.03 L479.52,416.42 L480.81,417.81 L482.09,419.20 L483.37,420.59 L484.66,421.98 L485.94,423.38 L487.22,424.77 L488.50,426.16 L489.79,427.56 L491.07,428.95 L492.35,430.34 L493.63,431.74 L494.91,433.13 L496.19,434.53 L497.46,435.92 L498.74,437.32 L500.02,438.72 L501.30,440.11 L502.58,441.51 L503.85,442.90 L505.13,444.30 L506.40,445.70 L507.68,447.09 L508.96,448.49 L510.23,449.89 L511.51,451.28 L512.78,452.68 L514.05,454.08 L515.33,455.48 L516.60,456.87 L517.88,458.27 L519.15,459.67 L520.42,461.06 L521.70,462.46 L522.97,463.86 L524.24,465.25 L525.52,466.65 L526.79,468.04 L528.07,469.44 L529.34,470.83 L530.62,472.22 L531.90,473.61 L533.17,475.01 L534.45,476.40 L535.73,477.79 L537.01,479.18 L538.29,480.57 L539.57,481.95 L540.86,483.34 L542.14,484.72 L543.42,486.11 L544.71,487.49 L546.00,488.87 L547.28,490.25 L548.57,491.63 L549.86,493.01 L551.16,494.39 L552.45,495.76 L553.75,497.14 L555.04,498.51 L556.34,499.88 L557.64,501.25 L558.95,502.62 L560.25,503.98 L561.56,505.35 L562.86,506.71 L564.17,508.07 L565.49,509.43 L566.80,510.78 L568.12,512.14 L569.44,513.49 L570.76,514.84 L572.08,516.19 L573.41,517.53 L574.74,518.88 L576.07,520.22 L577.40,521.56 L578.74,522.89 L580.08,524.23 L581.42,525.56 L582.76,526.89 L584.11,528.21 L585.46,529.54 L586.82,530.86 L588.17,532.18 L589.53,533.49 L590.90,534.80" stroke="#141414" stroke-width="3.00" fill="none"/>
<path d="M390.80,338.30 L392.69,338.83 L394.56,339.39 L396.41,339.98 L398.25,340.59 L400.07,341.23 L401.88,341.90 L403.67,342.60 L405.44,343.32 L407.20,344.06 L408.94,344.83 L410.67,345.62 L412.38,346.44 L414.08,347.28 L415.77,348.15 L417.44,349.03 L419.09,349.94 L420.74,350.87 L422.37,351.81 L423.99,352.78 L425.59,353.77 L427.18,354.78 L428.76,355.81 L430.33,356.85 L431.89,357.91 L433.44,358.99 L434.97,360.09 L436.50,361.21 L438.01,362.34 L439.51,363.48 L441.01,364.64 L442.49,365.82 L443.96,367.01 L445.43,368.21 L446.88,369.42 L448.33,370.65 L449.77,371.89 L451.20,373.14 L452.62,374.41 L454.03,375.68 L455.44,376.97 L456.84,378.26 L458.23,379.56 L459.62,380.88 L460.99,382.20 L462.37,383.53 L463.73,384.86 L465.09,386.20 L466.45,387.55 L467.80,388.91 L469.14,390.27 L470.48,391.64 L471.82,393.01 L473.15,394.38 L474.48,395.77 L475.80,397.15 L477.11,398.54 L478.43,399.94 L479.73,401.34 L481.04,402.74 L482.34,404.15 L483.64,405.56 L484.93,406.98 L486.22,408.40 L487.50,409.82 L488.78,411.25 L490.06,412.68 L491.33,414.11 L492.60,415.55 L493.87,416.98 L495.14,418.43 L496.40,419.87 L497.65,421.32 L498.91,422.77 L500.16,424.22 L501.41,425.68 L502.66,427.13 L503.90,428.59 L505.14,430.05 L506.38,431.52 L507.62,432.98 L508.85,434.45 L510.09,435.91 L511.32,437.38 L512.54,438.85 L513.77,440.32 L515.00,441.79 L516.22,443.26 L517.44,444.74 L518.66,446.21 L519.88,447.68 L521.09,449.16 L522.31,450.63 L523.52,452.11 L524.74,453.58 L525.95,455.05 L527.16,456.53 L528.37,458.00 L529.58,459.48 L530.79,460.95 L531.99,462.42 L533.20,463.90 L534.40,465.37 L535.61,466.85 L536.81,468.32 L538.01,469.80 L539.22,471.27 L540.42,472.75 L541.62,474.22 L542.82,475.70 L544.02,477.17 L545.22,478.65 L546.42,480.12 L547.62,481.60 L548.81,483.07 L550.01,484.55 L551.21,486.02 L552.41,487.50 L553.61,488.97 L554.80,490.45 L556.00,491.93 L557.20,493.40 L558.40,494.88 L559.59,496.36 L560.79,497.83 L561.99,499.31 L563.19,500.79 L564.39,502.26 L565.58,503.74 L566.78,505.22 L567.98,506.69 L569.18,508.17 L570.38,509.65 L571.58,511.13 L572.78,512.61 L573.99,514.08 L575.19,515.56 L576.39,517.04 L577.60,518.52 L578.80,520.00 L580.01,521.48 L581.21,522.96 L582.42,524.44 L583.63,525.92 L584.84,527.40 L586.05,528.88 L587.26,530.36 L588.47,531.84 L589.68,533.32 L590.90,534.80" stroke="#66bb47" stroke-width="3.00" fill="none"/>
<path d="M390.80,338.30 L392.75,338.70 L394.69,339.13 L396.63,339.58 L398.55,340.05 L400.46,340.54 L402.36,341.05 L404.25,341.58 L406.13,342.14 L408.00,342.71 L409.86,343.31 L411.70,343.92 L413.54,344.55 L415.37,345.21 L417.19,345.88 L419.00,346.57 L420.80,347.28 L422.59,348.01 L424.37,348.76 L426.14,349.52 L427.90,350.31 L429.65,351.11 L431.39,351.93 L433.13,352.76 L434.85,353.62 L436.56,354.49 L438.26,355.38 L439.96,356.28 L441.64,357.20 L443.32,358.14 L444.99,359.09 L446.64,360.06 L448.29,361.05 L449.93,362.05 L451.56,363.06 L453.19,364.09 L454.80,365.14 L456.40,366.20 L458.00,367.27 L459.59,368.36 L461.16,369.46 L462.73,370.58 L464.29,371.71 L465.85,372.85 L467.39,374.01 L468.93,375.18 L470.45,376.36 L471.97,377.56 L473.48,378.76 L474.99,379.98 L476.48,381.22 L477.97,382.46 L479.45,383.71 L480.92,384.98 L482.38,386.26 L483.83,387.55 L485.28,388.85 L486.72,390.16 L488.15,391.48 L489.57,392.81 L490.99,394.15 L492.40,395.50 L493.80,396.86 L495.19,398.23 L496.58,399.61 L497.96,400.99 L499.33,402.39 L500.69,403.79 L502.05,405.21 L503.40,406.63 L504.74,408.06 L506.07,409.49 L507.40,410.94 L508.72,412.39 L510.04,413.85 L511.34,415.31 L512.64,416.79 L513.94,418.27 L515.23,419.75 L516.51,421.24 L517.78,422.74 L519.05,424.24 L520.31,425.75 L521.56,427.27 L522.81,428.78 L524.05,430.31 L525.28,431.84 L526.51,433.37 L527.73,434.91 L528.95,436.45 L530.16,437.99 L531.36,439.54 L532.56,441.10 L533.75,442.65 L534.94,444.21 L536.12,445.77 L537.29,447.34 L538.46,448.90 L539.63,450.47 L540.78,452.05 L541.93,453.62 L543.08,455.19 L544.22,456.77 L545.35,458.35 L546.48,459.94 L547.60,461.52 L548.72,463.11 L549.83,464.70 L550.94,466.29 L552.03,467.89 L553.13,469.49 L554.21,471.09 L555.30,472.70 L556.37,474.31 L557.44,475.92 L558.50,477.53 L559.56,479.15 L560.61,480.77 L561.65,482.39 L562.69,484.02 L563.73,485.65 L564.75,487.29 L565.77,488.93 L566.79,490.57 L567.79,492.22 L568.80,493.87 L569.79,495.52 L570.78,497.18 L571.76,498.84 L572.74,500.51 L573.71,502.18 L574.67,503.85 L575.63,505.53 L576.58,507.21 L577.52,508.90 L578.46,510.59 L579.39,512.29 L580.32,513.99 L581.23,515.70 L582.15,517.41 L583.05,519.13 L583.95,520.85 L584.84,522.57 L585.73,524.30 L586.60,526.04 L587.48,527.78 L588.34,529.53 L589.20,531.28 L590.05,533.04 L590.90,534.80" stroke="#2a48a4" stroke-width="3.00" fill="none"/>
<path d="M390.80,338.30 L392.75,338.69 L394.70,339.11 L396.65,339.53 L398.59,339.98 L400.53,340.44 L402.46,340.91 L404.39,341.41 L406.32,341.91 L408.24,342.44 L410.16,342.98 L412.08,343.53 L413.99,344.10 L415.90,344.68 L417.80,345.28 L419.70,345.90 L421.59,346.53 L423.48,347.17 L425.37,347.83 L427.25,348.51 L429.13,349.20 L431.00,349.90 L432.86,350.62 L434.72,351.35 L436.58,352.10 L438.43,352.86 L440.27,353.64 L442.11,354.43 L443.95,355.24 L445.78,356.05 L447.60,356.89 L449.42,357.73 L451.23,358.59 L453.03,359.47 L454.83,360.35 L456.63,361.26 L458.41,362.17 L460.19,363.10 L461.97,364.04 L463.73,364.99 L465.50,365.96 L467.25,366.94 L469.00,367.94 L470.74,368.94 L472.47,369.96 L474.20,370.99 L475.92,372.04 L477.63,373.10 L479.33,374.17 L481.03,375.25 L482.72,376.34 L484.40,377.45 L486.08,378.57 L487.74,379.70 L489.40,380.85 L491.05,382.00 L492.69,383.17 L494.33,384.35 L495.95,385.54 L497.57,386.74 L499.18,387.96 L500.78,389.18 L502.37,390.42 L503.96,391.67 L505.53,392.93 L507.10,394.20 L508.65,395.48 L510.20,396.78 L511.74,398.08 L513.27,399.40 L514.79,400.72 L516.30,402.06 L517.80,403.41 L519.29,404.77 L520.77,406.13 L522.25,407.51 L523.71,408.90 L525.16,410.30 L526.60,411.71 L528.03,413.13 L529.45,414.56 L530.86,416.00 L532.26,417.45 L533.65,418.91 L535.03,420.38 L536.40,421.86 L537.76,423.35 L539.11,424.85 L540.44,426.35 L541.77,427.87 L543.08,429.40 L544.38,430.93 L545.67,432.47 L546.95,434.03 L548.22,435.59 L549.48,437.16 L550.72,438.74 L551.95,440.33 L553.17,441.93 L554.38,443.53 L555.58,445.14 L556.76,446.77 L557.94,448.40 L559.09,450.04 L560.24,451.68 L561.38,453.34 L562.50,455.00 L563.60,456.67 L564.70,458.35 L565.77,460.04 L566.84,461.74 L567.88,463.44 L568.91,465.16 L569.93,466.88 L570.92,468.61 L571.90,470.35 L572.86,472.09 L573.80,473.85 L574.72,475.61 L575.62,477.39 L576.50,479.17 L577.36,480.96 L578.20,482.76 L579.01,484.57 L579.81,486.39 L580.58,488.21 L581.33,490.05 L582.05,491.89 L582.75,493.74 L583.42,495.61 L584.07,497.48 L584.69,499.36 L585.29,501.25 L585.86,503.15 L586.40,505.05 L586.92,506.97 L587.40,508.90 L587.86,510.83 L588.29,512.78 L588.69,514.73 L589.05,516.70 L589.39,518.67 L589.69,520.65 L589.97,522.64 L590.21,524.65 L590.42,526.66 L590.59,528.68 L590.73,530.71 L590.84,532.75 L590.91,534.80" stroke="#e8222b" stroke-width="3.00" fill="none"/>
<rect x="395.30" y="335.20" width="6.00" height="6.00" fill="none" stroke="#b8489f" stroke-width="2.60"/>
<rect x="412.80" y="337.30" width="6.00" height="6.00" fill="none" stroke="#b8489f" stroke-width="2.60"/>
<rect x="446.00" y="352.40" width="6.00" height="6.00" fill="none" stroke="#b8489f" stroke-width="2.60"/>
<rect x="488.00" y="388.30" width="6.00" height="6.00" fill="none" stroke="#b8489f" stroke-width="2.60"/>
<rect x="535.00" y="418.00" width="6.00" height="6.00" fill="none" stroke="#b8489f" stroke-width="2.60"/>
<rect x="589.10" y="536.00" width="6.00" height="6.00" fill="none" stroke="#b8489f" stroke-width="2.60"/>
<rect x="393.5" y="446.4" width="106.1" height="88.8" fill="#fff" stroke="#6e6e6e" stroke-width="1.2"/>
<line x1="401.80" y1="459.00" x2="426.60" y2="459.00" stroke="#e8222b" stroke-width="3.00"/>
<text x="441.45" y="461.90" font-size="14.50" fill="#000" style='font-family:"Liberation Serif", serif'>Δ</text>
<text x="450.50" y="466.70" font-size="9.50" fill="#000">g</text>
<text x="454.95" y="461.90" font-size="15.00" fill="#000" style='font-family:"Liberation Serif", serif'>=0.5θ</text>
<text x="490.40" y="467.00" font-size="10.50" fill="#000" style='font-family:"Liberation Serif", serif'>0</text>
<line x1="401.80" y1="480.20" x2="426.60" y2="480.20" stroke="#2a48a4" stroke-width="3.00"/>
<text x="441.45" y="483.10" font-size="14.50" fill="#000" style='font-family:"Liberation Serif", serif'>Δ</text>
<text x="450.50" y="487.90" font-size="9.50" fill="#000">g</text>
<text x="454.95" y="483.10" font-size="15.00" fill="#000" style='font-family:"Liberation Serif", serif'>=0.4θ</text>
<text x="490.40" y="488.20" font-size="10.50" fill="#000" style='font-family:"Liberation Serif", serif'>0</text>
<line x1="401.80" y1="501.40" x2="426.60" y2="501.40" stroke="#66bb47" stroke-width="3.00"/>
<text x="441.45" y="504.30" font-size="14.50" fill="#000" style='font-family:"Liberation Serif", serif'>Δ</text>
<text x="450.50" y="509.10" font-size="9.50" fill="#000">g</text>
<text x="454.95" y="504.30" font-size="15.00" fill="#000" style='font-family:"Liberation Serif", serif'>=0.3θ</text>
<text x="490.40" y="509.40" font-size="10.50" fill="#000" style='font-family:"Liberation Serif", serif'>0</text>
<line x1="401.80" y1="522.60" x2="426.60" y2="522.60" stroke="#141414" stroke-width="3.00"/>
<text x="441.45" y="525.50" font-size="14.50" fill="#000" style='font-family:"Liberation Serif", serif'>Δ</text>
<text x="450.50" y="530.30" font-size="9.50" fill="#000">g</text>
<text x="454.95" y="525.50" font-size="15.00" fill="#000" style='font-family:"Liberation Serif", serif'>=0.2θ</text>
<text x="490.40" y="530.60" font-size="10.50" fill="#000" style='font-family:"Liberation Serif", serif'>0</text>
<rect x="517.0" y="348.6" width="64.5" height="20.9" fill="#fff" stroke="#333" stroke-width="1.1"/>
<rect x="527.65" y="355.95" width="6.70" height="6.70" fill="none" stroke="#b8489f" stroke-width="2.80"/>
<text x="547.21" y="362.30" font-size="16.20" fill="#000">exp</text>
<path d="M382.20,345.80 L382.20,330.60 L380.64,330.60 C380.14,332.12 378.73,333.31 376.45,333.60 L376.45,335.01 L380.20,335.01 L380.20,345.80 Z" fill="#000"/>
<text x="385.90" y="447.00" font-size="22.00" fill="#000" text-anchor="end">0.5</text>
<text x="386.80" y="547.60" font-size="22.00" fill="#000" text-anchor="end">0</text>
<text x="384.34" y="563.50" font-size="22.00" fill="#000">0</text>
<text x="476.14" y="563.50" font-size="22.00" fill="#000">0.5</text>
<path d="M593.90,563.20 L593.90,548.00 L592.34,548.00 C591.84,549.52 590.43,550.71 588.15,551.00 L588.15,552.41 L591.90,552.41 L591.90,563.20 Z" fill="#000"/>
<g transform="translate(334.80,460.00) rotate(-90)"><text x="1.13" y="0" font-size="21.5" style="font-family:'Liberation Serif',serif">τ</text><text x="10.90" y="0" font-size="21">/</text><text x="17.83" y="0" font-size="21.5" style="font-family:'Liberation Serif',serif">τ</text><text x="26.64" y="10.90" font-size="16">m</text><line x1="0.5" y1="-13.6" x2="10.9" y2="-13.6" stroke="#000" stroke-width="1.4"/></g>
<text x="466.55" y="586.00" font-size="18.50" fill="#000">ω</text>
<text x="480.60" y="586.00" font-size="21.00" fill="#000">/</text>
<text x="486.55" y="586.00" font-size="18.50" fill="#000">ω</text>
<text x="502.00" y="596.50" font-size="16.50" fill="#000">m</text>
<line x1="467.70" y1="571.70" x2="479.20" y2="571.70" stroke="#000" stroke-width="1.40"/>
</svg>
</body></html>
